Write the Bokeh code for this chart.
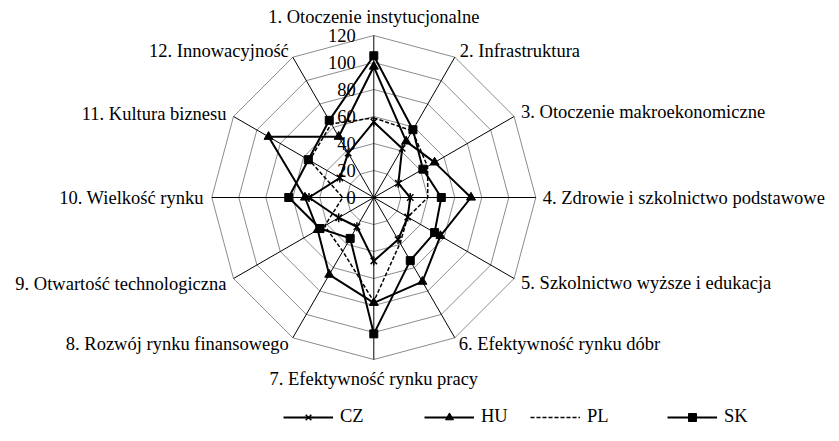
import math
from bokeh.plotting import figure
from bokeh.models import Range1d, Legend, LegendItem
from bokeh.core.properties import value
from bokeh.embed import file_html
from bokeh.resources import INLINE

categories = ["1. Otoczenie instytucjonalne", "2. Infrastruktura", "3. Otoczenie makroekonomiczne",
              "4. Zdrowie i szkolnictwo podstawowe", "5. Szkolnictwo wyższe i edukacja",
              "6. Efektywność rynku dóbr", "7. Efektywność rynku pracy", "8. Rozwój rynku finansowego",
              "9. Otwartość technologiczna", "10. Wielkość rynku", "11. Kultura biznesu",
              "12. Innowacyjność"]
cz = [56, 42, 21, 27, 29, 36, 47, 25, 30, 48, 29, 38]
hu = [97, 48, 52, 72, 57, 72, 78, 66, 48, 51, 90, 52]
pl = [59, 57, 46, 40, 29, 39, 77, 46, 42, 23, 55, 63]
sk = [105, 58, 42, 50, 52, 54, 101, 35, 46, 63, 56, 66]
ticks = [0, 20, 40, 60, 80, 100, 120]
rmax = 120

W, H = 839, 441
PX = 1.35          # pixels per unit
CX, CY = 373.3, 197.0

FONT = "Liberation Serif"
FS = "18.5px"

p = figure(width=W, height=H, output_backend="svg", toolbar_location=None,
           x_range=Range1d(-CX / PX, (W - CX) / PX),
           y_range=Range1d(-(H - CY) / PX, CY / PX),
           min_border=0, min_border_left=0, min_border_right=0,
           min_border_top=0, min_border_bottom=0)
p.axis.visible = False
p.grid.visible = False
p.outline_line_color = None

n = len(categories)
ang = [2 * math.pi * k / n for k in range(n)]


def xy(vals):
    xs = [v * math.sin(a) for v, a in zip(vals, ang)]
    ys = [v * math.cos(a) for v, a in zip(vals, ang)]
    return xs, ys


# rings
for t in ticks[1:]:
    xs, ys = xy([t] * n)
    p.line(xs + xs[:1], ys + ys[:1], line_color="#8c8c8c", line_width=1)

# spokes
ex, ey = xy([rmax] * n)
p.segment(x0=[0] * n, y0=[0] * n, x1=ex, y1=ey, line_color="black", line_width=1)

# tick labels
p.text(x=[0] * len(ticks), y=ticks, text=[str(t) for t in ticks], x_offset=-18,
       text_align="right", text_baseline="middle", text_font=value(FONT),
       text_font_size=FS, text_color="black")

# category labels
xo = [0, 5, 7, 7, 7, 4, 0, -4, -7, -8, -7, -4]
yo = [-19, -6, -5, 0, 4, 6, 19, 6, 5, 0, -3, -6]
al = ["center", "left", "left", "left", "left", "left", "center",
      "right", "right", "right", "right", "right"]
p.text(x=ex, y=ey, text=categories, x_offset=xo, y_offset=yo, text_align=al,
       text_baseline="middle", text_font=value(FONT), text_font_size=FS,
       text_color="black")

legend_items = []

# CZ
xs, ys = xy(cz)
l_cz = p.line(xs + xs[:1], ys + ys[:1], line_color="black", line_width=2)
m1 = p.scatter(xs, ys, marker="x", size=9, line_color="black", line_width=1.5)
m2 = p.scatter(xs, ys, marker="dash", angle=math.pi / 2, size=9, line_color="black", line_width=1.5)
legend_items.append(("CZ", [l_cz, m1, m2], 283))

# HU
xs, ys = xy(hu)
l_hu = p.line(xs + xs[:1], ys + ys[:1], line_color="black", line_width=2)
m3 = p.scatter(xs, ys, marker="triangle", size=9, fill_color="black", line_color="black")
legend_items.append(("HU", [l_hu, m3], 424))

# PL
xs, ys = xy(pl)
l_pl = p.line(xs + xs[:1], ys + ys[:1], line_color="black", line_width=1.5, line_dash="4 2")
legend_items.append(("PL", [l_pl], 530))

# SK
xs, ys = xy(sk)
l_sk = p.line(xs + xs[:1], ys + ys[:1], line_color="black", line_width=2)
m4 = p.scatter(xs, ys, marker="square", size=8, fill_color="black", line_color="black")
legend_items.append(("SK", [l_sk, m4], 667))

for label, rends, lx in legend_items:
    lg = Legend(items=[LegendItem(label=label, renderers=rends)], location=(lx, 14),
                orientation="horizontal", glyph_width=50, glyph_height=20,
                label_standoff=7, padding=0, margin=0, spacing=0,
                border_line_color=None, background_fill_alpha=0,
                label_text_font=FONT, label_text_font_size=FS,
                label_text_color="black", label_text_baseline="middle")
    p.add_layout(lg)

open("out.html", "w").write(file_html(p, INLINE))
